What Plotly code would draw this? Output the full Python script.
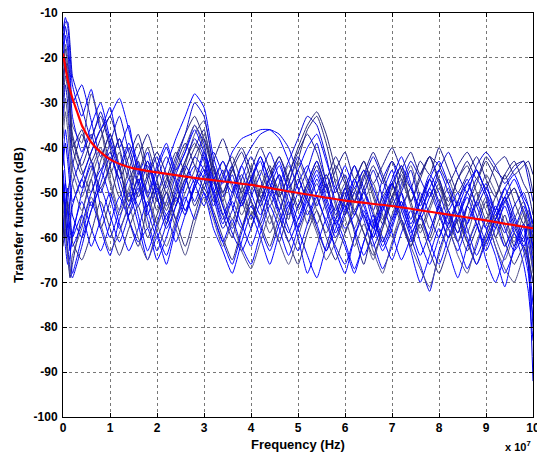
import plotly.graph_objects as go

# Frequency grid in units of 1e7 Hz
freq = [0, 0.05, 0.1, 0.15, 0.2,
        0.4, 0.6, 0.8, 1.0, 1.2, 1.4, 1.6, 1.8, 2.0,
        2.2, 2.4, 2.6, 2.8, 3.0, 3.2, 3.4, 3.6, 3.8, 4.0,
        4.2, 4.4, 4.6, 4.8, 5.0, 5.2, 5.4, 5.6, 5.8, 6.0,
        6.2, 6.4, 6.6, 6.8, 7.0, 7.2, 7.4, 7.6, 7.8, 8.0,
        8.2, 8.4, 8.6, 8.8, 9.0, 9.2, 9.4, 9.6, 9.8, 9.9, 10.0]

c01 = [-14, -11, -13, -19, -26,
       -33, -27, -36, -31, -40, -35, -46, -41, -50,
       -44, -38, -33, -28, -31, -42, -48, -44, -52, -47,
       -43, -50, -46, -53, -48, -44, -51, -56, -49, -54,
       -47, -52, -58, -50, -45, -53, -49, -56, -51, -47,
       -54, -50, -57, -52, -48, -55, -51, -58, -53, -56, -60]
c02 = [-50, -58, -64, -69, -66,
       -55, -47, -58, -52, -44, -56, -62, -53, -48,
       -57, -51, -45, -40, -36, -47, -55, -60, -52, -58,
       -49, -55, -61, -54, -47, -52, -58, -63, -56, -50,
       -59, -66, -57, -51, -48, -56, -62, -55, -60, -53,
       -49, -57, -63, -58, -52, -60, -55, -62, -57, -64, -70]
c03 = [-18, -13, -16, -22, -30,
       -26, -34, -42, -37, -45, -51, -43, -55, -49,
       -53, -46, -41, -35, -39, -50, -45, -53, -58, -51,
       -46, -41, -47, -55, -50, -45, -39, -48, -56, -51,
       -44, -49, -54, -47, -43, -50, -57, -52, -46, -50,
       -56, -61, -53, -47, -51, -58, -52, -49, -55, -58, -62]
c04 = [-22, -17, -20, -28, -35,
       -39, -28, -35, -46, -41, -52, -47, -58, -51,
       -46, -53, -44, -37, -34, -44, -52, -57, -49, -44,
       -51, -57, -50, -44, -49, -57, -52, -46, -53, -59,
       -52, -46, -54, -61, -55, -49, -44, -51, -58, -53,
       -47, -53, -59, -52, -46, -50, -57, -61, -55, -59, -66]
c05 = [-45, -52, -58, -63, -60,
       -50, -44, -53, -60, -54, -47, -55, -63, -57,
       -50, -56, -48, -42, -45, -53, -47, -41, -38, -37,
       -36, -36, -38, -43, -49, -55, -50, -46, -52, -58,
       -55, -50, -57, -63, -58, -52, -59, -55, -49, -54,
       -60, -56, -51, -57, -63, -58, -53, -59, -62, -60, -65]
c06 = [-30, -24, -27, -33, -40,
       -46, -41, -36, -44, -51, -45, -39, -47, -54,
       -48, -42, -37, -33, -38, -46, -52, -45, -50, -56,
       -49, -44, -51, -46, -40, -35, -32, -37, -45, -53,
       -48, -43, -50, -56, -49, -44, -52, -47, -42, -48,
       -53, -47, -44, -50, -56, -51, -46, -52, -57, -54, -58]
c07 = [-55, -60, -57, -52, -48,
       -42, -37, -45, -39, -33, -41, -48, -43, -51,
       -56, -49, -43, -38, -42, -51, -58, -54, -47, -42,
       -47, -53, -48, -43, -38, -33, -35, -42, -50, -46,
       -52, -47, -42, -47, -53, -48, -43, -47, -51, -45,
       -41, -46, -50, -44, -41, -44, -48, -45, -43, -47, -52]
c08 = [-40, -47, -55, -62, -68,
       -60, -52, -58, -64, -56, -50, -57, -65, -60,
       -66, -58, -52, -47, -50, -58, -63, -68, -61, -55,
       -60, -66, -59, -53, -60, -68, -62, -56, -63, -68,
       -60, -54, -61, -67, -62, -56, -63, -70, -64, -58,
       -63, -69, -62, -57, -65, -70, -64, -59, -66, -72, -83]
c09 = [-28, -20, -24, -31, -37,
       -44, -38, -33, -40, -47, -42, -37, -45, -52,
       -47, -41, -46, -53, -48, -44, -50, -45, -41, -47,
       -52, -46, -42, -48, -54, -49, -44, -50, -45, -41,
       -47, -43, -48, -44, -40, -45, -49, -43, -46, -40,
       -45, -50, -46, -42, -47, -51, -46, -43, -48, -50, -55]
c10 = [-48, -55, -60, -57, -53,
       -47, -53, -46, -41, -49, -55, -50, -44, -51,
       -58, -53, -47, -52, -46, -41, -46, -50, -44, -40,
       -37, -36, -37, -40, -46, -52, -47, -53, -59, -54,
       -49, -55, -60, -54, -48, -53, -58, -52, -47, -52,
       -57, -52, -48, -53, -58, -54, -49, -55, -60, -57, -62]
c11 = [-35, -29, -33, -39, -45,
       -51, -45, -40, -47, -54, -49, -43, -51, -57,
       -52, -45, -40, -35, -40, -48, -43, -49, -55, -50,
       -45, -51, -56, -50, -45, -51, -57, -52, -47, -53,
       -58, -52, -48, -55, -60, -54, -49, -55, -61, -56,
       -51, -55, -61, -56, -51, -57, -62, -56, -52, -55, -61]
c12 = [-57, -62, -66, -64, -59,
       -52, -58, -63, -57, -51, -56, -61, -58, -65,
       -60, -53, -48, -44, -47, -55, -61, -66, -59, -53,
       -58, -63, -57, -52, -58, -64, -69, -62, -56, -61,
       -67, -61, -55, -60, -65, -59, -54, -61, -66, -60,
       -55, -61, -67, -62, -56, -62, -68, -63, -58, -64, -75]
c13 = [-25, -18, -22, -30, -38,
       -45, -50, -43, -37, -44, -52, -46, -40, -47,
       -54, -48, -43, -39, -43, -52, -46, -42, -48, -55,
       -50, -45, -50, -56, -43, -36, -33, -39, -48, -55,
       -50, -45, -51, -57, -51, -46, -52, -58, -53, -48,
       -54, -59, -53, -48, -43, -47, -52, -49, -54, -57, -60]
c14 = [-16, -12, -12, -17, -24,
       -31, -38, -32, -39, -45, -40, -48, -53, -47,
       -42, -48, -54, -49, -44, -50, -56, -51, -46, -52,
       -57, -51, -46, -52, -58, -53, -48, -54, -60, -55,
       -50, -56, -62, -57, -51, -56, -61, -55, -50, -55,
       -60, -55, -50, -55, -61, -56, -52, -57, -62, -66, -80]
c15 = [-52, -48, -53, -58, -62,
       -57, -50, -45, -51, -58, -53, -47, -54, -60,
       -55, -61, -55, -49, -45, -50, -57, -52, -57, -62,
       -56, -50, -55, -61, -56, -50, -45, -51, -57, -62,
       -68, -61, -56, -62, -57, -52, -58, -64, -59, -53,
       -58, -63, -57, -52, -58, -64, -71, -62, -57, -61, -67]
c16 = [-60, -54, -50, -47, -44,
       -37, -43, -49, -44, -38, -44, -51, -46, -41,
       -46, -52, -47, -42, -38, -45, -50, -44, -40, -45,
       -51, -47, -42, -47, -53, -48, -43, -49, -44, -48,
       -54, -49, -44, -48, -43, -47, -52, -46, -42, -47,
       -52, -47, -43, -47, -42, -45, -47, -44, -43, -45, -50]
c17 = [-47, -55, -62, -67, -69,
       -62, -54, -49, -55, -61, -55, -49, -56, -63,
       -57, -51, -55, -48, -41, -47, -53, -59, -63, -58,
       -52, -47, -52, -58, -63, -57, -51, -57, -62, -66,
       -60, -55, -60, -53, -48, -54, -60, -66, -72, -63,
       -57, -52, -58, -64, -59, -53, -58, -63, -60, -66, -92]
c18 = [-38, -32, -36, -42, -48,
       -54, -47, -41, -48, -55, -50, -44, -50, -57,
       -62, -56, -50, -45, -37, -44, -50, -56, -51, -46,
       -53, -59, -54, -48, -43, -48, -54, -59, -53, -48,
       -54, -59, -65, -58, -52, -47, -53, -59, -54, -49,
       -55, -61, -56, -50, -54, -60, -65, -59, -54, -58, -64]
c19 = [-42, -36, -40, -46, -52,
       -47, -41, -36, -33, -29, -36, -44, -51, -45,
       -40, -47, -54, -48, -42, -49, -55, -50, -44, -50,
       -55, -49, -44, -50, -56, -51, -46, -52, -57, -52,
       -47, -53, -58, -52, -47, -42, -48, -54, -49, -45,
       -50, -55, -50, -45, -50, -56, -51, -47, -52, -55, -59]
c20 = [-62, -57, -52, -56, -61,
       -65, -59, -52, -58, -64, -58, -53, -60, -55,
       -50, -56, -62, -55, -49, -54, -60, -65, -58, -52,
       -57, -62, -56, -61, -66, -59, -54, -60, -65, -59,
       -54, -59, -64, -58, -52, -57, -62, -57, -63, -68,
       -62, -56, -61, -66, -60, -55, -61, -66, -62, -65, -70]
c21 = [-33, -26, -30, -37, -43,
       -49, -43, -50, -44, -38, -46, -53, -47, -42,
       -49, -43, -37, -30, -33, -44, -51, -46, -53, -48,
       -42, -48, -54, -48, -42, -47, -53, -48, -55, -49,
       -44, -50, -45, -51, -56, -50, -45, -52, -47, -53,
       -58, -52, -47, -53, -49, -54, -59, -53, -50, -53, -57]
c22 = [-58, -53, -49, -54, -60,
       -55, -62, -56, -50, -57, -63, -58, -52, -59,
       -64, -57, -51, -56, -50, -55, -61, -56, -62, -66,
       -59, -53, -58, -64, -58, -52, -57, -63, -58, -53,
       -58, -64, -59, -53, -59, -65, -60, -55, -61, -66,
       -60, -55, -60, -66, -61, -56, -62, -58, -63, -68, -78]
c23 = [-26, -21, -25, -32, -40,
       -36, -43, -38, -33, -40, -47, -42, -37, -44,
       -50, -44, -39, -44, -49, -43, -38, -44, -50, -45,
       -40, -45, -51, -46, -41, -37, -41, -47, -42, -47,
       -52, -46, -41, -46, -51, -45, -41, -46, -42, -44,
       -48, -44, -41, -45, -49, -44, -42, -46, -44, -43, -46]
c24 = [-44, -39, -43, -49, -55,
       -60, -54, -48, -42, -47, -53, -48, -43, -49,
       -55, -50, -44, -48, -53, -47, -53, -58, -52, -47,
       -53, -48, -54, -59, -53, -48, -43, -49, -54, -49,
       -55, -50, -55, -61, -56, -50, -56, -50, -55, -60,
       -54, -59, -53, -57, -62, -56, -51, -56, -61, -57, -63]
c25 = [-53, -59, -64, -68, -64,
       -58, -51, -57, -63, -59, -53, -60, -65, -58,
       -52, -58, -64, -57, -51, -56, -62, -57, -63, -67,
       -61, -55, -61, -66, -60, -54, -59, -65, -61, -56,
       -62, -57, -63, -68, -61, -56, -62, -67, -71, -64,
       -58, -64, -68, -61, -56, -62, -67, -70, -64, -62, -68]
c26 = [-20, -15, -18, -25, -33,
       -41, -35, -30, -38, -44, -39, -45, -50, -44,
       -39, -45, -41, -36, -41, -47, -43, -48, -53, -47,
       -42, -47, -43, -49, -45, -40, -37, -43, -49, -44,
       -49, -45, -49, -54, -48, -44, -49, -53, -47, -43,
       -48, -53, -48, -45, -50, -54, -49, -46, -51, -53, -57]

blue_curves = [c01, c02, c03, c04, c05, c06, c07, c08, c09, c10, c11, c12, c13,
               c14, c15, c16, c17, c18, c19, c20, c21, c22, c23, c24, c25, c26]

# Mean (fitted) curve
red_freq = [0, 0.05, 0.1, 0.2, 0.3, 0.4, 0.5, 0.6, 0.8, 1.0, 1.25, 1.5,
            2, 2.5, 3, 4, 5, 6, 7, 8, 9, 10]
red_db = [-19, -22, -25, -29, -32, -35, -37, -38.8, -41, -42.6, -43.8, -44.6,
          -45.5, -46.3, -47, -48.3, -50.1, -51.8, -53, -54.6, -56.2, -58]

x_ticks = [0, 1, 2, 3, 4, 5, 6, 7, 8, 9, 10]
y_ticks = [-100, -90, -80, -70, -60, -50, -40, -30, -20, -10]

colors = ["#0000ff", "#1c1c8a", "#0000e6", "#50508c", "#0000ff", "#2c2c7a", "#0a0ad0"]

fig = go.Figure()
for i, c in enumerate(blue_curves):
    fig.add_trace(go.Scatter(
        x=freq, y=c, mode="lines",
        line=dict(color=colors[i % len(colors)], width=1.0, shape="spline", smoothing=0.5),
        hoverinfo="skip", showlegend=False))

fig.add_trace(go.Scatter(
    x=red_freq, y=red_db, mode="lines",
    line=dict(color="#ff0000", width=2.2, shape="spline", smoothing=0.6),
    showlegend=False))

FONT = "Liberation Sans, Arial, sans-serif"
tick_font = dict(family=FONT, size=12, color="black", weight="bold")

PLOT_W = 537 - 63 - 4

fig.update_layout(
    width=537, height=454,
    margin=dict(l=63, r=4, t=13, b=37, autoexpand=False),
    paper_bgcolor="white", plot_bgcolor="white",
    xaxis=dict(range=[0, 10], tickvals=x_ticks, ticktext=[str(v) for v in x_ticks],
               showgrid=True, gridcolor="#777777", griddash="dot", gridwidth=1,
               zeroline=False, showline=True, linecolor="black", linewidth=1,
               mirror="ticks", ticks="inside", ticklen=4, tickcolor="black",
               tickfont=tick_font, automargin=False, ticklabeloverflow="allow"),
    yaxis=dict(range=[-100, -10], tickvals=y_ticks, ticktext=[str(v) for v in y_ticks],
               showgrid=True, gridcolor="#777777", griddash="dot", gridwidth=1,
               zeroline=False, showline=True, linecolor="black", linewidth=1,
               mirror="ticks", ticks="inside", ticklen=4, tickcolor="black",
               tickfont=tick_font, ticklabelstandoff=2, automargin=False,
               ticklabeloverflow="allow"),
    annotations=[
        dict(text="Frequency (Hz)", x=0.5, xref="paper", y=-0.069, yref="paper",
             yanchor="middle", xanchor="center", showarrow=False,
             font=dict(family=FONT, size=13, color="black", weight="bold")),
        dict(text="Transfer function (dB)", x=(18 - 63) / PLOT_W, xref="paper", xanchor="center",
             y=0.5, yref="paper", yanchor="middle", textangle=-90, showarrow=False,
             font=dict(family=FONT, size=13, color="black", weight="bold")),
        dict(text="x 10<sup>7</sup>", x=1.0, xref="paper", xanchor="right",
             y=-0.073, yref="paper", yanchor="middle", showarrow=False,
             font=dict(family=FONT, size=11, color="black", weight="bold")),
    ],
)

fig.write_html("out.html", config={"displayModeBar": False},
               post_script="document.body.style.margin='0';document.body.style.overflow='hidden';")
